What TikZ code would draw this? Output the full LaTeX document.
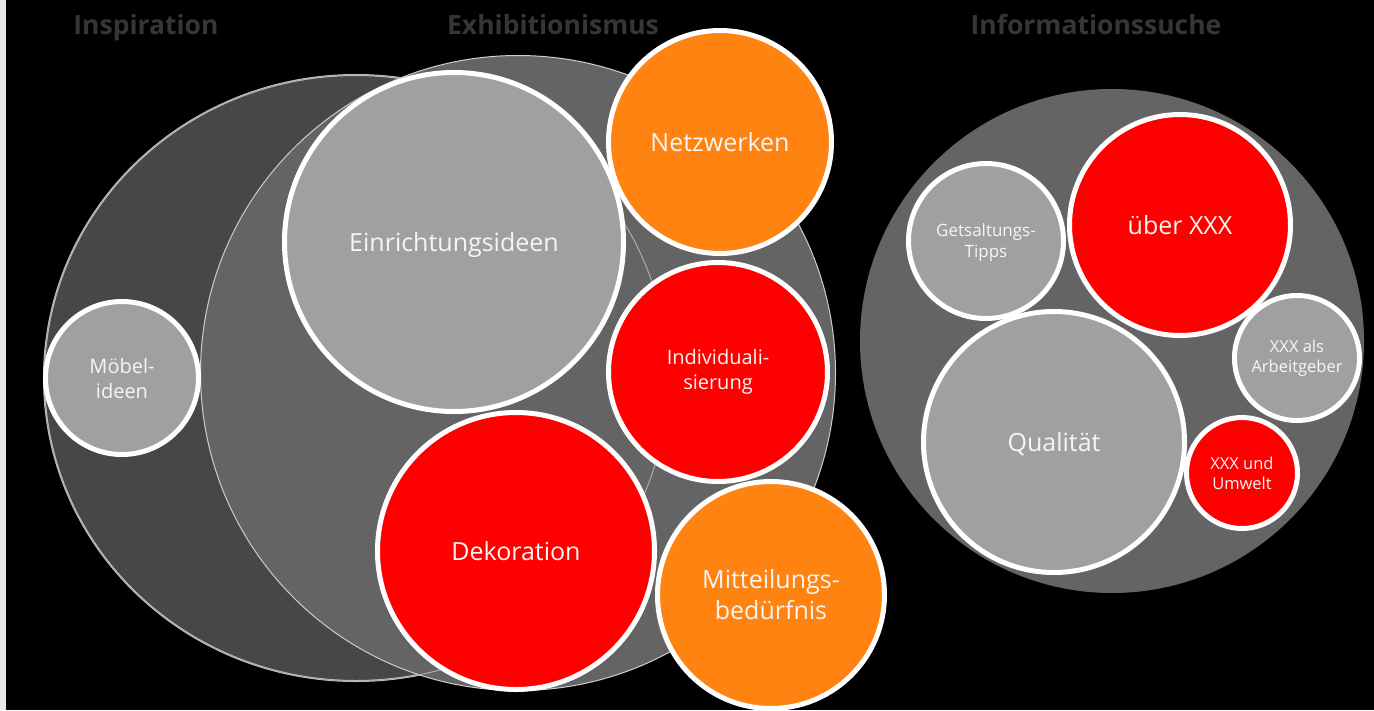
\documentclass[tikz,border=0pt]{standalone}
\usepackage{fontspec}
\setmainfont{Open Sans}
\definecolor{orng}{HTML}{FF8311}
\definecolor{lgray}{HTML}{A0A0A0}
\definecolor{dgray}{HTML}{474747}
\definecolor{mgray}{HTML}{646464}
\definecolor{ttlc}{HTML}{363636}
\definecolor{txtc}{HTML}{F5F5F5}
\definecolor{strip}{HTML}{E8E8E8}
\definecolor{rimc}{HTML}{C4C4C4}
\tikzset{
  bub/.style={circle, draw=white, line width=5pt, inner sep=0pt, text=txtc, align=center},
  bigbub/.style={circle, inner sep=0pt},
  ttlstyle/.style={text=ttlc, font=\bfseries\fontsize{26.5}{30}\selectfont, anchor=base},
  fbig/.style={font=\fontsize{25}{31}\selectfont},
  fmid/.style={font=\fontsize{20}{25}\selectfont},
  fsmall/.style={font=\fontsize{16.5}{20}\selectfont},
}
\begin{document}
\begin{tikzpicture}[x=1pt,y=-1pt]
\useasboundingbox (0,0) rectangle (1374,710);
\fill[black] (6,0) rectangle (1374,710);
\fill[strip] (0,0) rectangle (6,710);
% titles
\node[ttlstyle] (t1) at (146,34) {Inspiration};
\node[ttlstyle] (t2) at (553,34) {Exhibitionismus};
\node[ttlstyle] (t3) at (1096,34) {Informationssuche};
% big circles
\coordinate (inspc) at (356,378);
\filldraw[fill=dgray, draw=rimc, line width=2pt] (inspc) ellipse[x radius=312pt, y radius=303pt];
\node[bigbub, fill=mgray, draw=rimc!85!white, line width=1pt, minimum size=635pt] (exhi) at (518,373) {};
\draw[rimc!88!black, line width=1pt] (inspc) ellipse[x radius=312pt, y radius=303pt];
\node[bigbub, fill=mgray, minimum size=504pt] (info) at (1112,341) {};
% left group bubbles
\node[bub, fill=lgray, fmid, minimum size=153pt] (moebel) at (122,378) {Möbel-\\ideen};
\node[bub, fill=lgray, fbig, text depth=0pt, minimum size=339pt] (einr) at (454,242) {Einrichtungsideen};
\node[bub, fill=orng, fbig, minimum size=223pt] (netz) at (720,142) {Netzwerken};
\node[bub, fill=red, fmid, minimum size=219pt] (indiv) at (718,372) {Individuali-\\sierung};
\node[bub, fill=red, fbig, minimum size=277pt] (deko) at (516,551) {Dekoration};
\node[bub, fill=orng, fbig, minimum size=227pt] (mitt) at (771,595) {Mitteilungs-\\bedürfnis};
% right group bubbles
\node[bub, fill=lgray, font=\fontsize{17}{21}\selectfont, text depth=0pt, minimum size=155pt] (tipps) at (986,241) {Getsaltungs-\\Tipps};
\node[bub, fill=red, fbig, minimum size=221pt] (ueber) at (1180,225) {über XXX};
\node[bub, fill=lgray, fsmall, minimum size=125pt] (arbg) at (1297,358) {XXX als\\Arbeitgeber};
\node[bub, fill=lgray, fbig, text depth=0pt, minimum size=261pt] (qual) at (1054,442) {Qualität};
\node[bub, fill=red, fsmall, minimum size=111pt] (umw) at (1242,473) {XXX und\\Umwelt};
\end{tikzpicture}
\end{document}
